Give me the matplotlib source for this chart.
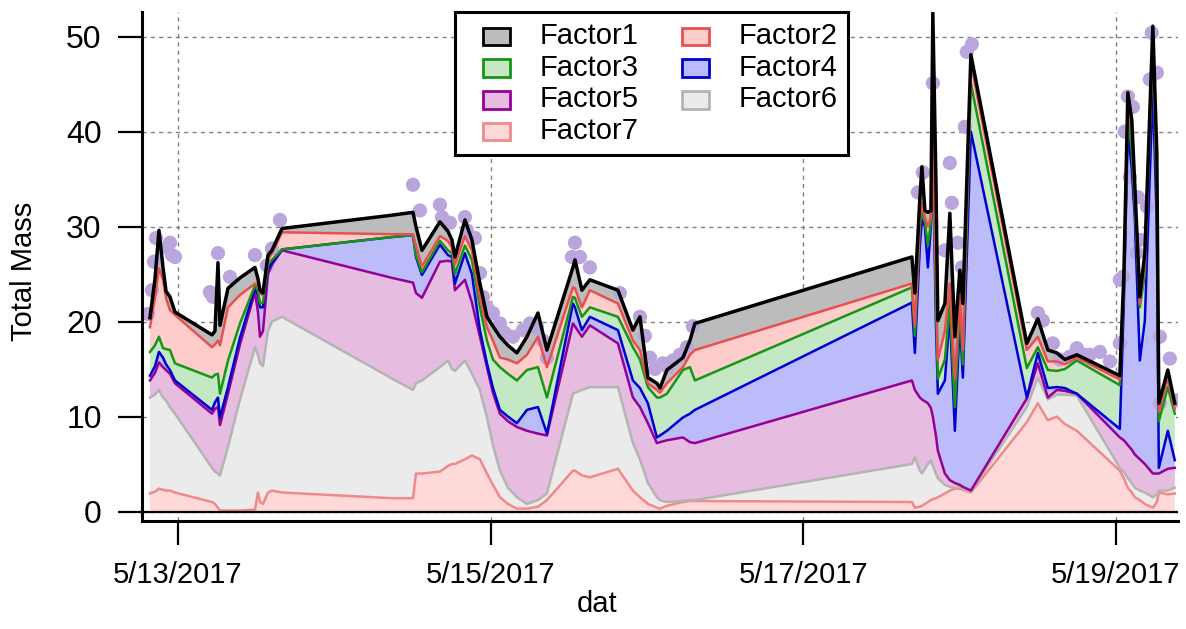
import numpy as np
import pandas as pd
import matplotlib
matplotlib.use('Agg')
import matplotlib.pyplot as plt
import matplotlib.dates as mdates
from matplotlib.patches import Patch, Rectangle
from matplotlib.legend_handler import HandlerPatch
from matplotlib.ticker import FuncFormatter

plt.rcParams['font.family'] = ['Liberation Sans', 'DejaVu Sans']

start = pd.Timestamp('2017-05-13 00:00')

# sample times, hours after 5/13/2017 00:00
hours = [-4.30, -3.53, -2.92, -2.30, -1.84, -1.23, -0.46, 5.22, 5.68, 6.14,
         6.45, 7.68, 9.52, 11.82, 12.28, 12.59, 13.05, 13.82, 14.43, 15.97,
         32.85, 36.08, 36.54, 37.46, 40.22, 41.45, 42.06, 42.52, 44.06, 45.13,
         46.36, 47.44, 48.36, 49.43, 50.66, 52.04, 53.58, 55.27, 56.65, 60.64,
         60.95, 62.02, 63.25, 67.55, 69.85, 70.93, 72.15, 73.53, 74.00, 75.07,
         77.53, 78.60, 79.37, 112.68, 113.14, 113.91, 114.22, 114.68, 115.14, 115.60,
         115.90, 116.37, 116.67, 117.75, 118.51, 119.28, 120.05, 120.51, 121.74, 130.33,
         132.02, 133.56, 134.94, 136.17, 138.01, 144.61, 145.23, 145.84, 146.45, 146.92,
         147.68, 148.45, 149.68, 150.29, 150.60, 151.98, 153.05]

# stacked levels: top edge of each band (Factor7 at the bottom, Factor1 on top)
cum7 = [1.9, 2.1, 2.4, 2.3, 2.2, 2.2, 2.0, 1.0, 0.8, 0.4,
        0.1, 0.1, 0.1, 0.2, 2.0, 1.0, 0.8, 2.0, 2.2, 2.0,
        1.4, 1.4, 4.0, 4.0, 4.2, 4.8, 5.0, 5.0, 5.5, 5.9,
        5.5, 4.0, 2.8, 1.5, 0.8, 0.3, 0.3, 0.5, 1.2, 4.3,
        4.3, 3.8, 3.6, 4.5, 2.2, 1.5, 0.8, 0.4, 0.3, 0.6,
        1.0, 1.1, 1.1, 1.0, 0.4, 0.5, 0.6, 0.8, 1.0, 1.2,
        1.3, 1.4, 1.5, 1.9, 2.2, 2.4, 2.4, 2.3, 2.0, 9.4,
        11.4, 9.6, 10.0, 9.2, 8.5, 4.3, 3.5, 2.5, 2.0, 1.5,
        1.2, 0.8, 0.4, 1.0, 2.0, 1.8, 1.9]
cum6 = [12.0, 12.3, 12.8, 12.0, 11.7, 11.0, 10.3, 4.6, 4.2, 4.0,
        3.8, 6.8, 11.8, 17.3, 16.5, 15.6, 15.3, 19.0, 20.0, 20.5,
        14.0, 12.8, 13.5, 13.8, 15.2, 15.9, 15.0, 14.8, 15.9, 14.5,
        12.8, 9.9, 7.0, 4.3, 2.5, 1.5, 0.8, 1.2, 1.9, 12.4,
        12.5, 12.8, 13.1, 13.1, 7.2, 5.5, 3.0, 1.5, 1.2, 1.0,
        1.1, 1.2, 1.2, 5.0, 5.7, 4.3, 4.0, 4.5, 5.0, 5.4,
        4.8, 4.0, 3.5, 2.8, 2.6, 2.5, 2.6, 2.4, 2.1, 11.0,
        14.1, 11.8, 12.3, 12.3, 12.2, 4.6, 4.2, 3.5, 3.0, 2.5,
        2.2, 2.0, 1.5, 1.8, 2.2, 2.2, 2.5]
cum5 = [13.8, 14.6, 15.7, 15.2, 14.9, 14.5, 13.5, 10.3, 10.8, 11.0,
        9.1, 12.4, 17.6, 23.1, 21.0, 18.4, 19.0, 25.0, 26.0, 27.5,
        24.6, 24.1, 23.0, 22.5, 26.3, 26.4, 26.3, 23.3, 24.4, 22.0,
        18.4, 15.2, 12.5, 10.3, 9.5, 8.9, 8.5, 8.2, 8.0, 19.8,
        19.5, 18.4, 19.6, 17.7, 12.0, 11.0, 9.3, 7.2, 7.3, 7.5,
        7.8, 7.3, 7.2, 13.8, 12.8, 12.0, 11.8, 11.6, 11.4, 10.9,
        10.0, 8.0, 6.4, 4.0, 3.3, 3.0, 2.8, 2.6, 2.2, 11.9,
        15.6, 12.0, 12.8, 12.7, 12.4, 7.8, 7.5, 7.0, 6.5, 6.0,
        5.5, 5.0, 4.0, 4.0, 4.0, 4.5, 4.6]
cum4 = [14.3, 15.3, 16.8, 16.2, 15.5, 14.9, 13.8, 10.7, 11.5, 12.0,
        9.9, 13.1, 18.3, 23.5, 22.8, 21.5, 21.5, 25.5, 26.2, 27.6,
        28.9, 29.1, 26.8, 24.9, 28.1, 27.0, 26.8, 24.0, 27.2, 25.0,
        19.1, 15.6, 13.0, 10.7, 10.0, 9.3, 10.7, 11.0, 8.2, 21.9,
        21.5, 19.1, 20.5, 19.1, 13.8, 13.0, 11.4, 7.8, 8.0, 8.5,
        9.9, 10.3, 10.7, 22.0, 16.7, 28.0, 30.7, 30.0, 25.7, 30.0,
        37.8, 20.0, 12.4, 13.8, 20.9, 8.5, 20.1, 14.1, 40.0, 12.0,
        16.7, 13.0, 13.1, 13.0, 12.4, 8.7, 22.0, 40.2, 36.0, 30.7,
        15.9, 20.1, 44.7, 30.0, 4.6, 8.5, 5.4]
cum3 = [16.8, 17.5, 18.4, 17.2, 17.1, 17.0, 15.6, 14.1, 14.4, 14.5,
        12.4, 15.9, 19.8, 23.8, 23.3, 21.9, 22.0, 26.0, 26.5, 27.6,
        28.9, 29.1, 27.0, 25.2, 28.5, 27.5, 27.2, 25.0, 28.0, 26.5,
        21.5, 18.0, 16.0, 15.2, 14.5, 13.8, 14.9, 15.2, 12.0, 22.6,
        22.5, 20.5, 21.5, 20.5, 17.3, 16.0, 13.1, 12.0, 12.0, 12.4,
        14.9, 15.2, 13.8, 23.6, 18.5, 30.0, 31.5, 30.5, 28.0, 30.5,
        39.0, 22.0, 14.0, 16.0, 22.0, 11.0, 21.5, 15.5, 45.1, 15.1,
        17.3, 14.9, 14.8, 15.0, 15.9, 13.3, 23.5, 42.0, 38.0, 32.0,
        21.5, 25.0, 49.0, 33.0, 9.5, 13.1, 10.3]
cum2 = [19.4, 22.5, 25.6, 24.4, 22.5, 21.2, 20.7, 17.3, 17.6, 18.0,
        17.5, 21.5, 22.8, 24.0, 23.8, 23.0, 22.8, 26.5, 27.2, 29.4,
        29.2, 29.2, 28.0, 25.8, 29.0, 28.5, 27.8, 26.0, 29.0, 27.5,
        22.5, 19.4, 18.0, 16.2, 16.0, 15.6, 16.5, 18.4, 15.2, 23.6,
        23.5, 21.5, 23.3, 21.9, 18.0, 17.0, 13.5, 12.8, 12.5, 13.5,
        15.2, 16.5, 17.0, 24.0, 19.5, 31.0, 32.5, 31.0, 30.0, 31.0,
        40.0, 25.0, 16.0, 19.0, 24.0, 14.0, 22.5, 17.0, 47.2, 17.0,
        18.4, 15.8, 15.8, 15.5, 16.2, 13.9, 24.0, 42.5, 40.0, 33.0,
        21.8, 26.0, 50.0, 35.0, 10.5, 14.0, 10.8]
cum1 = [20.4, 24.5, 29.6, 25.7, 23.2, 22.6, 21.0, 18.6, 19.0, 26.2,
        19.6, 23.5, 24.6, 25.7, 24.5, 23.3, 23.0, 27.0, 27.5, 29.8,
        31.2, 31.5, 30.0, 27.5, 30.5, 29.5, 28.6, 26.8, 30.7, 28.6,
        24.0, 20.5, 19.5, 18.4, 17.5, 16.7, 18.4, 20.9, 17.0, 25.7,
        26.5, 23.3, 24.4, 23.3, 19.1, 20.5, 14.1, 13.5, 13.0, 14.9,
        16.2, 18.0, 19.8, 26.8, 23.0, 33.0, 36.3, 31.7, 31.5, 31.7,
        52.5, 35.0, 20.1, 21.9, 31.4, 18.4, 25.4, 21.9, 48.1, 17.7,
        20.3, 17.0, 16.7, 16.0, 16.5, 14.3, 25.0, 44.1, 41.2, 34.2,
        22.6, 27.2, 51.1, 37.8, 11.4, 14.9, 11.4]

# measured total mass (dots)
dot_hours = [-4.61, -4.00, -3.68, -3.38, -1.69, -1.23, -0.92, -0.46, 4.91, 5.37,
             6.14, 7.98, 11.82, 13.66, 14.43, 15.66, 36.08, 37.15, 40.22, 40.53,
             41.76, 44.06, 44.37, 45.59, 46.36, 46.82, 47.44, 48.36, 49.43, 50.20,
             51.43, 52.96, 54.04, 55.11, 56.03, 56.65, 60.49, 60.95, 61.71, 63.25,
             67.85, 70.93, 71.69, 72.46, 73.23, 74.46, 75.22, 75.99, 77.06, 78.14,
             79.06, 113.60, 114.37, 115.90, 117.75, 118.51, 118.82, 119.74, 120.36, 120.82,
             121.12, 121.89, 132.02, 132.79, 134.33, 135.40, 136.93, 138.01, 139.24, 140.01,
             141.54, 143.08, 144.61, 144.61, 145.07, 145.38, 145.84, 146.15, 146.61, 147.22,
             147.38, 147.68, 148.76, 149.22, 149.52, 150.29, 150.75, 150.75, 152.29, 153.36]
dot_mass = [20.8, 23.3, 26.3, 28.8, 27.8, 28.3, 27.0, 26.8, 23.1, 22.6,
            27.2, 24.7, 27.0, 25.9, 27.7, 30.7, 34.4, 31.7, 32.3, 31.0,
            30.4, 31.0, 29.6, 28.8, 25.1, 22.6, 21.5, 20.9, 19.8, 18.8,
            18.4, 19.1, 19.8, 19.4, 18.0, 16.2, 26.8, 28.3, 26.8, 25.7,
            23.0, 20.5, 18.5, 16.2, 15.0, 15.6, 15.2, 15.9, 16.5, 17.3,
            19.5, 33.6, 35.7, 45.1, 27.5, 36.7, 32.5, 28.3, 25.7, 40.5,
            48.4, 49.2, 20.9, 20.1, 17.7, 16.0, 16.3, 17.2, 16.5, 16.5,
            16.8, 15.8, 17.7, 24.4, 24.7, 40.0, 43.7, 35.2, 42.6, 27.2,
            33.1, 28.6, 32.1, 45.5, 50.4, 46.2, 18.4, 11.4, 16.1, 11.7]

names = ['Factor7', 'Factor6', 'Factor5', 'Factor4', 'Factor3', 'Factor2', 'Factor1']
fills = ['#ffd9d9', '#ebebeb', '#e6bde0', '#bcbcfa', '#c4e8c4', '#ffcccc', '#bcbcbc']
edges = ['#f08a8a', '#b4b4b4', '#960096', '#0000d2', '#169616', '#e85050', '#000000']
tick_days = ['2017-05-13', '2017-05-15', '2017-05-17', '2017-05-19']

t = start + pd.to_timedelta(hours, unit='h')
dot_t = start + pd.to_timedelta(dot_hours, unit='h')
levels = np.array([np.zeros(len(hours)), cum7, cum6, cum5, cum4, cum3, cum2, cum1])
bands = np.diff(levels, axis=0)

fig = plt.figure(figsize=(11.86, 6.29), dpi=100)
ax = fig.add_axes([0.1197, 0.1717, 0.8736, 0.8093])

ax.stackplot(t, bands, colors=fills, linewidth=0, zorder=1)
ax.scatter(dot_t, dot_mass, s=105, color='#bba5dd', edgecolors='none', zorder=2)
for lev, col in zip(levels[1:], edges):
    ax.plot(t, lev, color=col, lw=2.5 if col == '#000000' else 1.8, zorder=3)
ax.axhline(0, color='black', lw=1.6, zorder=4)

ax.set_xlim(start - pd.Timedelta(hours=5.53), start + pd.Timedelta(hours=153.55))
ax.set_ylim(-1.0, 52.6)
ax.set_yticks([0, 10, 20, 30, 40, 50])
ax.set_xticks(pd.to_datetime(tick_days))
ax.xaxis.set_major_formatter(FuncFormatter(
    lambda v, pos: '{d.month}/{d.day}/{d.year}'.format(d=mdates.num2date(v))))

ax.grid(True, color='#808080', lw=1.0, linestyle=(0, (3, 3)))
ax.set_axisbelow(True)
for s in ['top', 'right']:
    ax.spines[s].set_visible(False)
for s in ['left', 'bottom']:
    ax.spines[s].set_linewidth(2.2)
ax.tick_params(axis='both', direction='out', length=17, width=1.6, pad=12)
ax.tick_params(axis='x', labelsize=21)
ax.tick_params(axis='y', labelsize=23)

ax.set_ylabel('Total Mass', fontsize=21)
ax.yaxis.set_label_coords(-0.10, 0.49)
ax.set_xlabel('dat', fontsize=21)
ax.xaxis.set_label_coords(0.439, -0.135)


# small swatch sitting at the right end of a wider handle box
def swatch(legend, orig_handle, xdescent, ydescent, width, height, fontsize):
    w, h = 19, 12.5
    return Rectangle((-xdescent + width - w, -ydescent + (height - h) / 2 - 2), w, h)


handles = [Patch(facecolor=fc, edgecolor=ec, lw=2) for fc, ec in zip(fills, edges)]
order = [6, 4, 2, 0, 5, 3, 1]  # row-wise Factor1, Factor2 / Factor3, Factor4 / ...
leg = ax.legend([handles[i] for i in order], [names[i] for i in order],
                ncol=2, loc='upper center', bbox_to_anchor=(0.4915, 1.0),
                borderaxespad=0, fontsize=21, frameon=True, fancybox=False,
                handlelength=1.55, handleheight=0.6, handletextpad=1.03,
                columnspacing=0.85, labelspacing=0.13, borderpad=0.34,
                handler_map={Patch: HandlerPatch(patch_func=swatch)})
leg.get_frame().set_edgecolor('black')
leg.get_frame().set_linewidth(2.2)
leg.get_frame().set_alpha(1)

fig.savefig('out.png', dpi=100)
